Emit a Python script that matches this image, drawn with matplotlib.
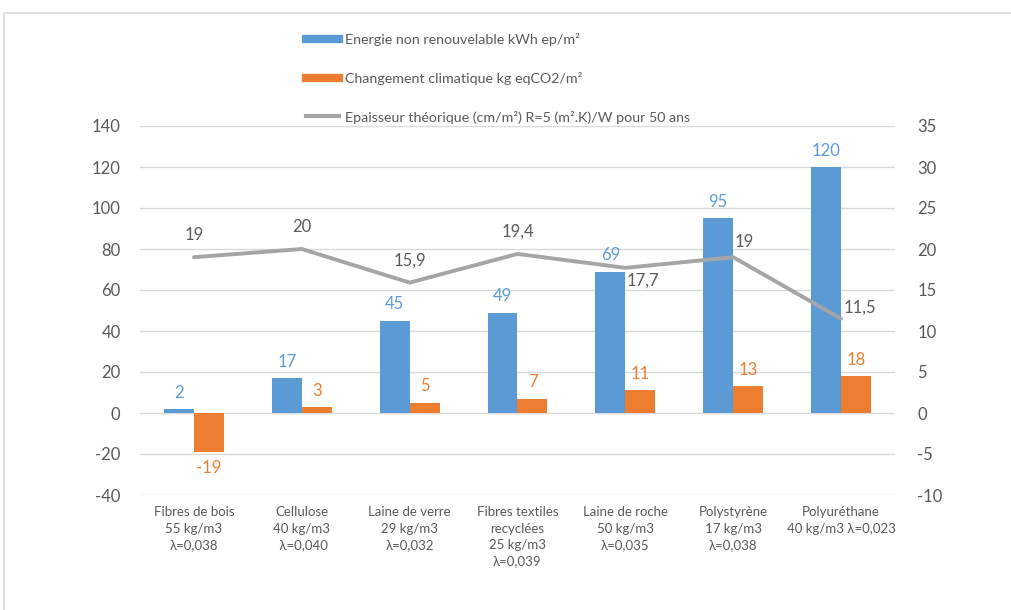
import matplotlib
matplotlib.use("Agg")
import matplotlib.pyplot as plt
import numpy as np
from matplotlib.patches import Rectangle
from matplotlib.lines import Line2D

plt.rcParams['font.family'] = ['Lato', 'DejaVu Sans']
plt.rcParams['axes.unicode_minus'] = False

categories = ["Fibres de bois\n55 kg/m3\nλ=0,038",
              "Cellulose\n40 kg/m3\n λ=0,040",
              "Laine de verre\n29 kg/m3\nλ=0,032",
              "Fibres textiles\nrecyclées\n25 kg/m3\nλ=0,039",
              "Laine de roche\n50 kg/m3\nλ=0,035",
              "Polystyrène\n17 kg/m3\nλ=0,038",
              "Polyuréthane\n40 kg/m3 λ=0,023"]
energie = [2, 17, 45, 49, 69, 95, 120]
climat = [-19, 3, 5, 7, 11, 13, 18]
epaisseur = [19, 20, 15.9, 19.4, 17.7, 19, 11.5]
epaisseur_labels = ["19", "20", "15,9", "19,4", "17,7", "19", "11,5"]
left_ticks = [-40, -20, 0, 20, 40, 60, 80, 100, 120, 140]
right_ticks = [-10, -5, 0, 5, 10, 15, 20, 25, 30, 35]

BLUE = "#5B9BD5"
ORANGE = "#ED7D31"
GREY = "#A5A5A5"
TXT = "#595959"
GRID = "#D9D9D9"

W, H = 1011, 610
fig = plt.figure(figsize=(W / 100, H / 100), dpi=100)

# chart border (cropped)
fig.patches.append(Rectangle((4 / W, -0.1), 1.2, 1 - 13 / H + 0.1, transform=fig.transFigure,
                             fill=False, edgecolor="#D9D9D9", linewidth=1.2))

ax = fig.add_axes([140 / W, 1 - 495 / H, 755 / W, 369 / H])
ax2 = ax.twinx()

x = np.arange(len(categories))
bw = 0.278
ax.bar(x - bw / 2, energie, bw, color=BLUE, zorder=2)
ax.bar(x + bw / 2, climat, bw, color=ORANGE, zorder=2)

ax.set_xlim(-0.5, len(categories) - 0.5)
ax.set_ylim(-40, 140)
ax.set_yticks(left_ticks)
ax.grid(axis="y", color=GRID, linewidth=1)
ax.set_axisbelow(True)
for s in ax.spines.values():
    s.set_visible(False)
for s in ax2.spines.values():
    s.set_visible(False)
ax.tick_params(axis="y", length=0, pad=14, labelsize=12, labelcolor=TXT)
ax.set_xticks(x)
ax.set_xticklabels(categories, fontsize=9.5, color=TXT, linespacing=1.45, va="top")
ax.tick_params(axis="x", length=0, pad=8)

ax2.set_ylim(-10, 35)
ax2.set_yticks(right_ticks)
ax2.tick_params(axis="y", length=0, pad=16, labelsize=12, labelcolor=TXT)

ax2.plot(x, epaisseur, color=GREY, linewidth=2.8, solid_capstyle="round", zorder=3)

# data labels bars
for xi, v in zip(x, energie):
    ax.annotate(str(v), (xi - bw / 2, v), xytext=(0, 6), textcoords="offset points",
                ha="center", va="bottom", color=BLUE, fontsize=12)
for xi, v in zip(x, climat):
    if v < 0:
        ax.annotate(str(v), (xi + bw / 2, v), xytext=(0, -6), textcoords="offset points",
                    ha="center", va="top", color=ORANGE, fontsize=12)
    else:
        ax.annotate(str(v), (xi + bw / 2, v), xytext=(0, 6), textcoords="offset points",
                    ha="center", va="bottom", color=ORANGE, fontsize=12)

# line labels (offsets in points)
offs = [((0, 16), "center"), ((0, 16), "center"), ((0, 16), "center"), ((0, 16), "center"),
        ((1, -9), "left"), ((1, 11), "left"), ((2, 8), "left")]
for xi, v, lab, (o, ha) in zip(x, epaisseur, epaisseur_labels, offs):
    ax2.annotate(lab, (xi, v), xytext=o, textcoords="offset points",
                 ha=ha, va="center", color=TXT, fontsize=12)

# legend
handles = [Line2D([], [], color=BLUE, linewidth=6),
           Line2D([], [], color=ORANGE, linewidth=6),
           Line2D([], [], color=GREY, linewidth=3)]
labels = ["Energie non renouvelable kWh ep/m²",
          "Changement climatique kg eqCO2/m²",
          "Epaisseur théorique (cm/m²) R=5 (m².K)/W pour 50 ans"]
leg = fig.legend(handles, labels, loc="upper left", bbox_to_anchor=(306 / W, 1 - 33 / H),
                 frameon=False, fontsize=10.3, labelcolor=TXT, handlelength=2.3,
                 handletextpad=0.45, labelspacing=1.8, borderaxespad=0,
                 borderpad=0)

fig.savefig("out.png", dpi=100, facecolor="white")
